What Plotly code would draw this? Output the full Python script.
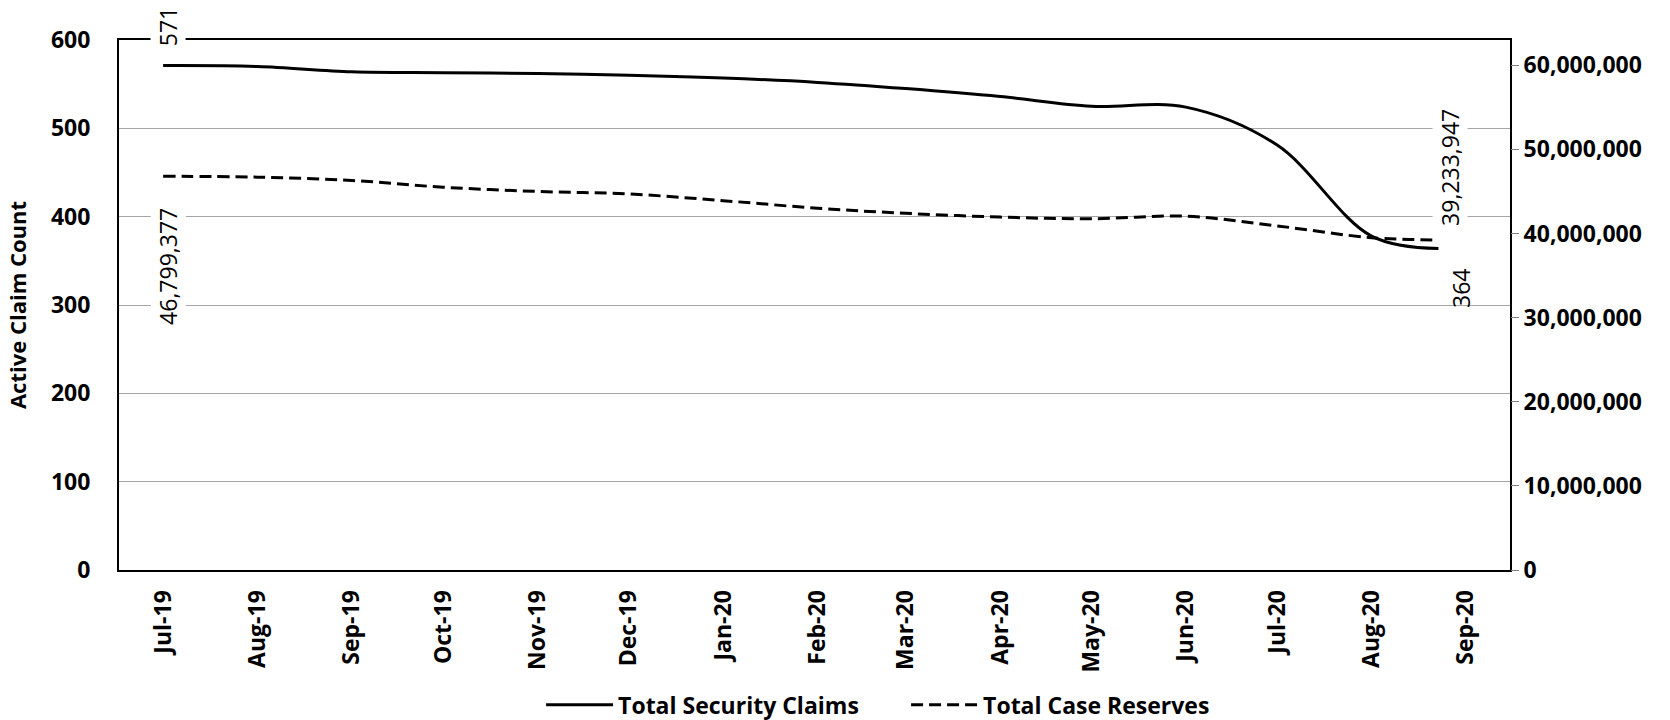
import plotly.graph_objects as go

# Observation dates (monthly, last one is a partial month)
dates = ["2019-07-01", "2019-08-01", "2019-09-01", "2019-10-01", "2019-11-01",
         "2019-12-01", "2020-01-01", "2020-02-01", "2020-03-01", "2020-04-01",
         "2020-05-01", "2020-06-01", "2020-07-01", "2020-08-01", "2020-08-23"]

# Month ticks along the bottom axis
month_ticks = ["2019-07-01", "2019-08-01", "2019-09-01", "2019-10-01", "2019-11-01",
               "2019-12-01", "2020-01-01", "2020-02-01", "2020-03-01", "2020-04-01",
               "2020-05-01", "2020-06-01", "2020-07-01", "2020-08-01", "2020-09-01"]
month_labels = ["Jul-19", "Aug-19", "Sep-19", "Oct-19", "Nov-19", "Dec-19", "Jan-20",
                "Feb-20", "Mar-20", "Apr-20", "May-20", "Jun-20", "Jul-20", "Aug-20", "Sep-20"]

security_claims = [571, 570, 564, 563, 562, 560, 557, 552, 545, 536, 525, 524, 481, 378, 364]
case_reserves = [46799377, 46700000, 46300000, 45500000, 45000000, 44700000, 43900000,
                 43000000, 42400000, 41950000, 41750000, 42050000, 40900000, 39500000, 39233947]

left_ticks = [0, 100, 200, 300, 400, 500, 600]
right_ticks = [0, 10000000, 20000000, 30000000, 40000000, 50000000, 60000000]

FONT = "Open Sans"

fig = go.Figure()

fig.add_trace(go.Scatter(
    x=dates, y=security_claims, xaxis="x", yaxis="y",
    mode="lines", name="Total Security Claims",
    line=dict(color="black", width=3, shape="spline", smoothing=1),
))
fig.add_trace(go.Scatter(
    x=dates, y=case_reserves, xaxis="x", yaxis="y2",
    mode="lines", name="Total Case Reserves",
    line=dict(color="black", width=3, dash="12px,6px", shape="spline", smoothing=1),
))

# Data labels on the first and last points of each series
label_font = dict(family=FONT, size=23, color="black")
fig.add_annotation(x=dates[0], y=security_claims[0], xref="x", yref="y",
                   text=f"{security_claims[0]:,}", textangle=-90, showarrow=False,
                   font=label_font, bgcolor="white", yanchor="bottom", yshift=17, xshift=5)
fig.add_annotation(x=dates[0], y=case_reserves[0], xref="x", yref="y2",
                   text=f"{case_reserves[0]:,}", textangle=-90, showarrow=False,
                   font=label_font, bgcolor="white", yanchor="top", yshift=-30, xshift=5)
fig.add_annotation(x=dates[-1], y=case_reserves[-1], xref="x", yref="y2",
                   text=f"{case_reserves[-1]:,}", textangle=-90, showarrow=False,
                   font=label_font, bgcolor="white", yanchor="bottom", yshift=12, xshift=12)
fig.add_annotation(x=dates[-1], y=security_claims[-1], xref="x", yref="y",
                   text=f"{security_claims[-1]:,}", textangle=-90, showarrow=False,
                   font=label_font, yanchor="middle", yshift=-40, xshift=23)

tick_font = dict(family=FONT, size=23, color="black", weight="bold")

fig.update_layout(
    width=1670, height=720,
    margin=dict(l=119, r=160, t=40, b=150),
    paper_bgcolor="white", plot_bgcolor="white",
    font=dict(family=FONT, color="black"),
    xaxis=dict(
        type="date", range=["2019-06-16 12:00", "2020-09-15 12:00"],
        tickmode="array", tickvals=month_ticks, ticktext=month_labels,
        tickangle=-90, tickfont=tick_font, ticks="", ticklabelstandoff=9,
        showgrid=False, zeroline=False, automargin=False,
        showline=True, mirror=True, linecolor="black", linewidth=2,
    ),
    yaxis=dict(
        range=[0, 600], tickmode="array", tickvals=left_ticks,
        tickfont=tick_font, ticks="", ticklabelstandoff=22, automargin=False,
        showgrid=True, gridcolor="#a6a6a6", gridwidth=1, zeroline=False,
        showline=True, mirror=True, linecolor="black", linewidth=2,
        title=dict(text="Active Claim Count", standoff=18,
                   font=dict(family=FONT, size=22, color="black", weight="bold")),
    ),
    yaxis2=dict(
        overlaying="y", side="right", anchor="x", automargin=False,
        range=[0, 63000000], tickmode="array", tickvals=right_ticks,
        tickformat=",", tickfont=tick_font,
        ticks="outside", ticklen=8, tickcolor="#808080", ticklabelstandoff=0,
        showgrid=False, zeroline=False, showline=False,
    ),
    legend=dict(
        orientation="h", xref="container", yref="container",
        x=0.324, xanchor="left", y=0.021, yanchor="middle",
        font=dict(family=FONT, size=23, color="black", weight="bold"),
        itemwidth=67, entrywidth=283, entrywidthmode="pixels", tracegroupgap=0,
    ),
    showlegend=True,
)

fig.write_html("out.html")
